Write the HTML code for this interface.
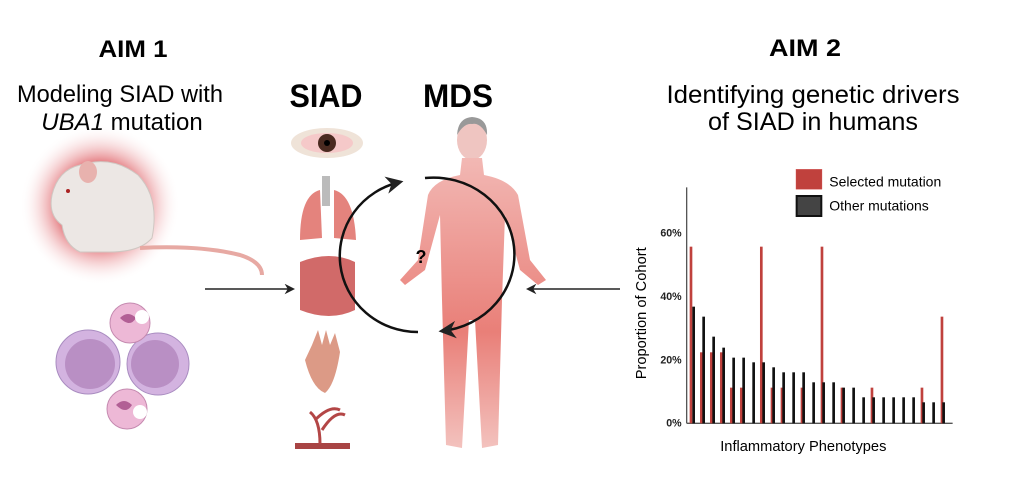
<!DOCTYPE html>
<html><head><meta charset="utf-8"><style>html,body{margin:0;padding:0;background:#fff}svg{display:block}</style></head>
<body>
<svg width="1024" height="485" viewBox="0 0 1024 485" xmlns="http://www.w3.org/2000/svg" font-family="Liberation Sans, sans-serif">
<defs>
<radialGradient id="glow" cx="0.5" cy="0.5" r="0.5">
<stop offset="0.55" stop-color="#d9434a" stop-opacity="0.9"/><stop offset="1" stop-color="#fff" stop-opacity="0"/></radialGradient>
<linearGradient id="skin" x1="0" y1="0" x2="0" y2="1">
<stop offset="0" stop-color="#f2b8b4"/><stop offset="0.6" stop-color="#e97f78"/><stop offset="1" stop-color="#f3c2be"/></linearGradient>
<marker id="ah" viewBox="0 0 10 10" refX="8" refY="5" markerWidth="7" markerHeight="7" orient="auto"><path d="M0,0 L10,5 L0,10 L3,5z" fill="#222"/></marker>
</defs>
<text x="133" y="57" font-size="24" font-weight="bold" text-anchor="middle" textLength="69" lengthAdjust="spacingAndGlyphs">AIM 1</text>
<text x="120" y="102" font-size="24" text-anchor="middle" textLength="206" lengthAdjust="spacingAndGlyphs">Modeling SIAD with</text>
<text x="122" y="130" font-size="24" text-anchor="middle"><tspan font-style="italic">UBA1</tspan> mutation</text>
<text x="326" y="107" font-size="32" font-weight="bold" text-anchor="middle" textLength="73" lengthAdjust="spacingAndGlyphs">SIAD</text>
<text x="458" y="107" font-size="32" font-weight="bold" text-anchor="middle" textLength="70" lengthAdjust="spacingAndGlyphs">MDS</text>
<text x="805" y="56" font-size="24" font-weight="bold" text-anchor="middle" textLength="72" lengthAdjust="spacingAndGlyphs">AIM 2</text>
<text x="813" y="103" font-size="25" text-anchor="middle" textLength="293" lengthAdjust="spacingAndGlyphs">Identifying genetic drivers</text>
<text x="813" y="130" font-size="25" text-anchor="middle" textLength="210" lengthAdjust="spacingAndGlyphs">of SIAD in humans</text>
<!-- mouse -->
<circle cx="100" cy="205" r="80" fill="url(#glow)" opacity="0.7"/>
<path d="M52,195 Q58,170 80,165 Q112,155 138,175 Q160,198 152,238 Q140,252 110,252 L80,252 Q65,245 62,225 Q48,215 52,195z" fill="#ece7e4" stroke="#cfc7c2"/>
<ellipse cx="88" cy="172" rx="9" ry="11" fill="#e8b2ae"/>
<circle cx="68" cy="191" r="2" fill="#a22"/>
<path d="M140,248 Q200,245 240,255 Q262,262 262,275" stroke="#e7a9a3" stroke-width="4" fill="none"/>
<!-- cells -->
<circle cx="88" cy="362" r="32" fill="#d3b3e0" stroke="#a98cc0"/><circle cx="90" cy="364" r="25" fill="#b98fc4"/>
<circle cx="158" cy="364" r="31" fill="#d3b3e0" stroke="#a98cc0"/><circle cx="155" cy="364" r="24" fill="#b98fc4"/>
<circle cx="130" cy="323" r="20" fill="#edb8d6" stroke="#c58ab0"/><path d="M120,318 q8,-8 16,0 q-6,10 -16,0" fill="#b25f95"/><circle cx="142" cy="317" r="7" fill="#fff"/>
<circle cx="127" cy="409" r="20" fill="#edb8d6" stroke="#c58ab0"/><path d="M116,405 q8,-8 16,0 q-6,10 -16,0" fill="#b25f95"/><circle cx="140" cy="412" r="7" fill="#fff"/>
<line x1="205" y1="289" x2="293" y2="289" stroke="#222" stroke-width="1.5" marker-end="url(#ah)"/>
<line x1="620" y1="289" x2="528" y2="289" stroke="#222" stroke-width="1.5" marker-end="url(#ah)"/>
<!-- organs -->
<ellipse cx="327" cy="143" rx="36" ry="15" fill="#efe3d8"/><ellipse cx="327" cy="143" rx="26" ry="10" fill="#f5c9c9"/><circle cx="327" cy="143" r="9" fill="#4a2a20"/><circle cx="327" cy="143" r="3" fill="#000"/>
<rect x="322" y="176" width="8" height="30" fill="#bbb"/>
<path d="M320,190 Q300,195 300,240 L322,238z M334,190 Q354,195 356,240 L334,238z" fill="#e4837d"/>
<path d="M300,262 Q330,250 355,262 L355,310 Q330,322 300,310z" fill="#c9504f" opacity="0.85"/>
<path d="M312,345 L318,330 L322,345 L326,330 L330,345 L335,333 L340,352 Q335,385 325,393 Q312,388 305,360z" fill="#dc9a86"/>
<path d="M295,446 L350,446" stroke="#a84444" stroke-width="6"/>
<path d="M320,444 Q320,420 310,412 M322,430 Q335,410 345,415 M315,420 Q330,405 340,410" stroke="#b34646" stroke-width="3" fill="none"/>
<!-- human -->
<ellipse cx="472" cy="140" rx="15" ry="20" fill="#efc5c1"/><path d="M457,135 Q458,118 472,117 Q488,118 487,135 Q480,122 472,124 Q464,123 457,135z" fill="#999"/>
<path d="M462,158 L482,158 L484,175 Q510,180 518,195 L530,260 L546,280 L538,285 L520,270 L505,215 L502,300 L498,445 L482,448 L475,320 L469,320 L462,448 L446,445 L442,300 L440,215 L425,270 L405,285 L400,280 L418,260 L428,195 Q434,180 460,175z" fill="url(#skin)"/>
<path d="M418,332 A78,76 0 0 1 400,182" stroke="#111" stroke-width="2.5" fill="none" marker-end="url(#ah)"/>
<path d="M425,178 A80,76 0 0 1 442,331" stroke="#111" stroke-width="2.5" fill="none" marker-end="url(#ah)"/>
<text x="421" y="263" font-size="18" font-weight="bold" text-anchor="middle">?</text>
<!-- chart -->
<g transform="translate(620,160) scale(0.3333)">
<rect x="528" y="28" width="78" height="60" fill="#c0413d" stroke="#d55" />
<rect x="530" y="108" width="74" height="60" fill="#444" stroke="#111" stroke-width="6"/>
<text x="628" y="80" font-size="42">Selected mutation</text>
<text x="628" y="152" font-size="42">Other mutations</text>
<line x1="200" y1="82" x2="200" y2="790" stroke="#555" stroke-width="4"/>
<line x1="200" y1="790" x2="998" y2="790" stroke="#555" stroke-width="4"/>
<g font-size="32" font-weight="bold" text-anchor="end" fill="#222">
<text x="185" y="230">60%</text><text x="185" y="420">40%</text><text x="185" y="610">20%</text><text x="185" y="800">0%</text></g>
<text transform="translate(78,460) rotate(-90)" font-size="44" text-anchor="middle">Proportion of Cohort</text>
<text x="550" y="873" font-size="44" text-anchor="middle">Inflammatory Phenotypes</text>
<g fill="#c0413d">
<rect x="209" y="260" width="8" height="530"/><rect x="240" y="577" width="8" height="213"/><rect x="270" y="577" width="8" height="213"/><rect x="300" y="577" width="8" height="213"/><rect x="330" y="683" width="8" height="107"/><rect x="360" y="683" width="8" height="107"/><rect x="420" y="260" width="8" height="530"/><rect x="452" y="683" width="8" height="107"/><rect x="482" y="683" width="8" height="107"/><rect x="542" y="683" width="8" height="107"/><rect x="602" y="260" width="8" height="530"/><rect x="662" y="683" width="8" height="107"/><rect x="752" y="683" width="8" height="107"/><rect x="902" y="683" width="8" height="107"/><rect x="962" y="470" width="8" height="320"/>
</g>
<g fill="#111">
<rect x="217" y="440" width="8" height="350"/><rect x="247" y="470" width="8" height="320"/><rect x="277" y="530" width="8" height="260"/><rect x="307" y="563" width="8" height="227"/><rect x="337" y="593" width="8" height="197"/><rect x="367" y="593" width="8" height="197"/><rect x="397" y="607" width="8" height="183"/><rect x="427" y="607" width="8" height="183"/><rect x="457" y="622" width="8" height="168"/><rect x="487" y="637" width="8" height="153"/><rect x="517" y="637" width="8" height="153"/><rect x="547" y="637" width="8" height="153"/><rect x="577" y="667" width="8" height="123"/><rect x="607" y="667" width="8" height="123"/><rect x="637" y="667" width="8" height="123"/><rect x="667" y="683" width="8" height="107"/><rect x="697" y="683" width="8" height="107"/><rect x="727" y="712" width="8" height="78"/><rect x="757" y="712" width="8" height="78"/><rect x="787" y="712" width="8" height="78"/><rect x="817" y="712" width="8" height="78"/><rect x="847" y="712" width="8" height="78"/><rect x="877" y="712" width="8" height="78"/><rect x="907" y="727" width="8" height="63"/><rect x="937" y="727" width="8" height="63"/><rect x="967" y="727" width="8" height="63"/>
</g>
</g>
</svg>
</body></html>
